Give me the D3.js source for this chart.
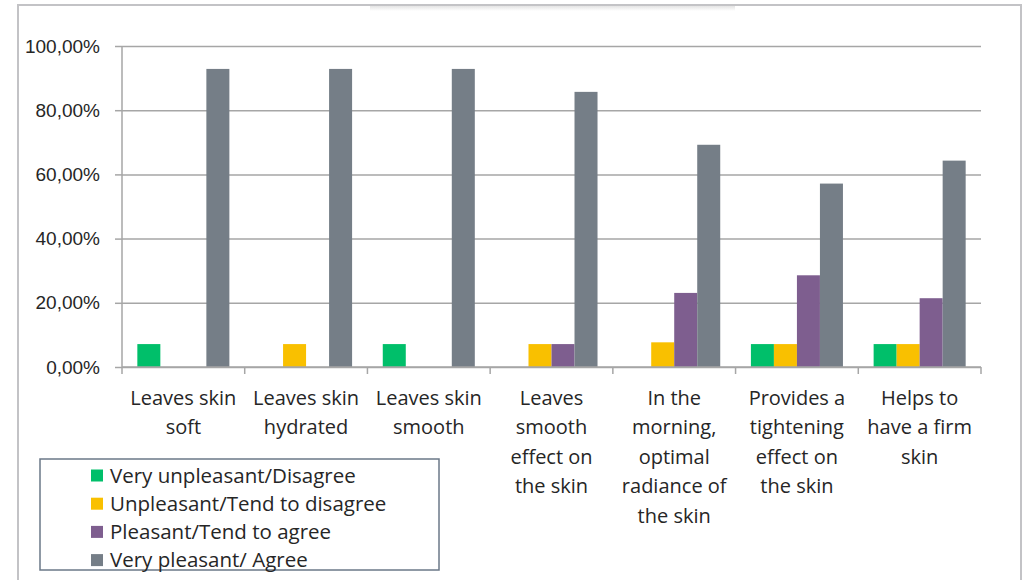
<!DOCTYPE html>
<html>
<head>
<meta charset="utf-8">
<script src="https://cdn.jsdelivr.net/npm/d3@7"></script>
<style>
  body { margin: 0; background: #fff; }
  svg { display: block; font-family: "Open Sans", sans-serif; }
  .domain { display: none; }
</style>
</head>
<body>
<script>

// chart data
var categories = ["soft", "hydrated", "smooth", "smoothEffect", "radiance", "tightening", "firm"];
var categoryLines = [
  ["Leaves skin", "soft"],
  ["Leaves skin", "hydrated"],
  ["Leaves skin", "smooth"],
  ["Leaves", "smooth", "effect on", "the skin"],
  ["In the", "morning,", "optimal", "radiance of", "the skin"],
  ["Provides a", "tightening", "effect on", "the skin"],
  ["Helps to", "have a firm", "skin"]
];
var seriesNames = ["Very unpleasant/Disagree", "Unpleasant/Tend to disagree", "Pleasant/Tend to agree", "Very pleasant/ Agree"];
var veryUnpleasant = [7.14, 0, 7.14, 0, 0, 7.14, 7.14];
var unpleasant     = [0, 7.14, 0, 7.14, 7.69, 7.14, 7.14];
var pleasant       = [0, 0, 0, 7.14, 23.08, 28.57, 21.43];
var veryPleasant   = [92.86, 92.86, 92.86, 85.71, 69.23, 57.14, 64.29];
var yTicks = [0, 20, 40, 60, 80, 100];

var seriesValues = [veryUnpleasant, unpleasant, pleasant, veryPleasant];
var colors = ["#00bf6a", "#f9c000", "#7e5e8f", "#757e87"];

// canvas
var W = 1024, H = 580;
var plot = {left: 122, right: 981, top: 46, bottom: 367};

var svg = d3.select("body").append("svg")
    .attr("width", W)
    .attr("height", H);

// faint shadow at top
var defs = svg.append("defs");
var grad = defs.append("linearGradient").attr("id", "shade")
    .attr("x1", 0).attr("y1", 0).attr("x2", 0).attr("y2", 1);
grad.append("stop").attr("offset", "0%").attr("stop-color", "#e4e4e4");
grad.append("stop").attr("offset", "100%").attr("stop-color", "#ffffff");
svg.append("rect")
    .attr("x", 370).attr("y", 6).attr("width", 365).attr("height", 5)
    .attr("fill", "url(#shade)");

// outer frame
svg.append("path")
    .attr("d", "M18,590 L18,5 L1021,5 L1021,590")
    .attr("fill", "none")
    .attr("stroke", "#c3c3c6")
    .attr("stroke-width", 2);

// scales
var x0 = d3.scaleBand()
    .domain(categories)
    .range([plot.left, plot.right])
    .padding(0);

var gap = x0.bandwidth() * 0.125;
var x1 = d3.scaleBand()
    .domain(d3.range(seriesNames.length))
    .range([gap, x0.bandwidth() - gap])
    .padding(0);

var y = d3.scaleLinear()
    .domain([0, 100])
    .range([plot.bottom, plot.top]);

// grid lines
svg.append("g")
    .attr("transform", "translate(" + plot.left + ",0)")
    .call(d3.axisLeft(y).tickValues(yTicks).tickSize(-(plot.right - plot.left)).tickFormat(""))
    .call(function(g) {
      g.selectAll(".tick line").attr("stroke", "#a6a6a6").attr("stroke-width", 1.5);
    });

// y axis
svg.append("g")
    .attr("transform", "translate(" + plot.left + ",0)")
    .call(d3.axisLeft(y).tickValues(yTicks).tickSize(7).tickPadding(15)
      .tickFormat(function(d) { return d3.format(".2f")(d).replace(".", ",") + "%"; }))
    .call(function(g) {
      g.selectAll(".tick line").attr("stroke", "#a6a6a6").attr("stroke-width", 1.5);
      g.selectAll(".tick text").attr("fill", "#262626").style("font-size", "19px");
    });

svg.append("line")
    .attr("x1", plot.left).attr("x2", plot.left)
    .attr("y1", plot.top).attr("y2", plot.bottom)
    .attr("stroke", "#a6a6a6").attr("stroke-width", 1.5);

// bars
var groups = svg.append("g").selectAll("g")
    .data(categories)
    .enter().append("g")
    .attr("transform", function(d) { return "translate(" + x0(d) + ",0)"; });

groups.selectAll("rect")
    .data(function(d, i) {
      return seriesValues.map(function(s, k) { return {k: k, value: s[i]}; })
        .filter(function(e) { return e.value > 0; });
    })
    .enter().append("rect")
    .attr("x", function(d) { return x1(d.k); })
    .attr("width", x1.bandwidth())
    .attr("y", function(d) { return y(d.value); })
    .attr("height", function(d) { return y(0) - y(d.value); })
    .attr("fill", function(d) { return colors[d.k]; });

// x axis
svg.append("line")
    .attr("x1", plot.left).attr("x2", plot.right)
    .attr("y1", plot.bottom).attr("y2", plot.bottom)
    .attr("stroke", "#a6a6a6").attr("stroke-width", 1.5);

var bounds = categories.map(function(c) { return x0(c); }).concat([plot.right]);
svg.append("g").selectAll("line")
    .data(bounds)
    .enter().append("line")
    .attr("x1", function(d) { return d; }).attr("x2", function(d) { return d; })
    .attr("y1", plot.bottom).attr("y2", plot.bottom + 7)
    .attr("stroke", "#a6a6a6").attr("stroke-width", 1.5);

var labels = svg.append("g").selectAll("text")
    .data(categories)
    .enter().append("text")
    .attr("text-anchor", "middle")
    .attr("fill", "#262626")
    .style("font-size", "20px");

labels.selectAll("tspan")
    .data(function(d, i) { return categoryLines[i]; })
    .enter().append("tspan")
    .attr("x", function() { var c = d3.select(this.parentNode).datum(); return x0(c) + x0.bandwidth() / 2; })
    .attr("y", function(d, i) { return 405 + i * 29.4; })
    .text(function(d) { return d; });

// legend
var legend = svg.append("g");
legend.append("rect")
    .attr("x", 40).attr("y", 459)
    .attr("width", 399).attr("height", 111)
    .attr("fill", "#fff")
    .attr("stroke", "#6b7888")
    .attr("stroke-width", 1.5);

var items = legend.selectAll(".item")
    .data(seriesNames)
    .enter().append("g")
    .attr("class", "item")
    .attr("transform", function(d, i) { return "translate(91," + (475.5 + i * 28.2) + ")"; });

items.append("rect")
    .attr("x", 0).attr("y", -6)
    .attr("width", 12).attr("height", 12)
    .attr("fill", function(d, i) { return colors[i]; });

items.append("text")
    .attr("x", 19).attr("y", 7)
    .attr("fill", "#262626")
    .style("font-size", "20.5px")
    .text(function(d) { return d; });

</script>
</body>
</html>
